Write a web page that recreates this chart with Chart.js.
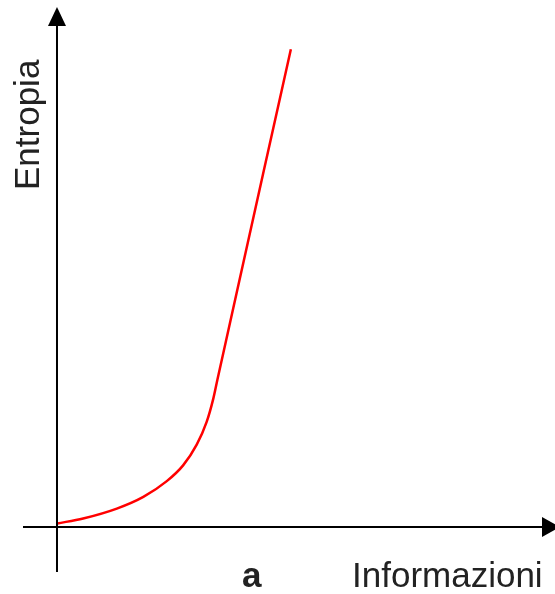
<!DOCTYPE html>
<html>
<head>
<meta charset="utf-8">
<script src="https://cdn.jsdelivr.net/npm/chart.js@4"></script>
<style>
  body { margin: 0; background: #fff; }
  #wrap { width: 555px; height: 594px; }
</style>
</head>
<body>
<div id="wrap"><canvas id="entropyChart" width="555" height="594"></canvas></div>
<script>
// valori (unità arbitrarie)
const informazioni = [0.01, 0.77, 1.76, 2.54, 3.23, 3.71, 4.11, 4.40, 4.60, 4.72, 5.09, 6.06, 6.88];
const entropia     = [0.08, 0.19, 0.41, 0.67, 1.02, 1.37, 1.83, 2.33, 2.86, 3.28, 4.54, 7.84, 10.62];

const xTitle = 'Informazioni';
const yTitle = 'Entropia';
const panelLabel = 'a';

// assi con frecce e testi
const axesPlugin = {
    id: 'axesArrows',
    afterDraw(chart) {
        const ctx = chart.ctx;
        const xs = chart.scales.x, ys = chart.scales.y;
        const x0 = xs.getPixelForValue(0);
        const y0 = ys.getPixelForValue(0);
        const area = chart.chartArea;
        ctx.save();
        ctx.strokeStyle = '#000';
        ctx.fillStyle = '#000';
        ctx.lineWidth = 2;
        // asse x
        ctx.beginPath();
        ctx.moveTo(area.left, y0);
        ctx.lineTo(area.right - 10, y0);
        ctx.stroke();
        ctx.beginPath();
        ctx.moveTo(area.right + 5, y0);
        ctx.lineTo(area.right - 13, y0 - 10);
        ctx.lineTo(area.right - 13, y0 + 10);
        ctx.closePath();
        ctx.fill();
        // asse y
        ctx.beginPath();
        ctx.moveTo(x0, area.bottom);
        ctx.lineTo(x0, area.top + 12);
        ctx.stroke();
        ctx.beginPath();
        ctx.moveTo(x0, area.top);
        ctx.lineTo(x0 - 9, area.top + 19);
        ctx.lineTo(x0 + 9, area.top + 19);
        ctx.closePath();
        ctx.fill();

        // testi
        ctx.fillStyle = '#222';
        ctx.textBaseline = 'alphabetic';
        ctx.textAlign = 'left';
        ctx.font = '35px "Liberation Sans", Arial, sans-serif';
        ctx.fillText(xTitle, 352, 587);
        ctx.font = 'bold 35px "Liberation Sans", Arial, sans-serif';
        ctx.fillText(panelLabel, 242, 587);
        ctx.translate(39, 190);
        ctx.rotate(-Math.PI / 2);
        ctx.font = '35px "Liberation Sans", Arial, sans-serif';
        ctx.fillText(yTitle, 0, 0);
        ctx.restore();
    }
};

new Chart(document.getElementById('entropyChart').getContext('2d'), {
    type: 'scatter',
    data: {
        datasets: [{
            label: yTitle,
            data: informazioni.map((v, i) => ({ x: v, y: entropia[i] })),
            showLine: true,
            borderColor: '#ff0000',
            borderWidth: 2.5,
            pointRadius: 0,
            cubicInterpolationMode: 'monotone',
            fill: false
        }]
    },
    options: {
        responsive: false,
        animation: false,
        devicePixelRatio: 1,
        layout: { padding: { left: 23, right: 0, top: 7, bottom: 22 } },
        plugins: {
            legend: { display: false },
            tooltip: { enabled: false }
        },
        scales: {
            x: { type: 'linear', min: -1, max: 14.65, display: false },
            y: { type: 'linear', min: -1, max: 11.56, display: false }
        }
    },
    plugins: [axesPlugin]
});
</script>
</body>
</html>
